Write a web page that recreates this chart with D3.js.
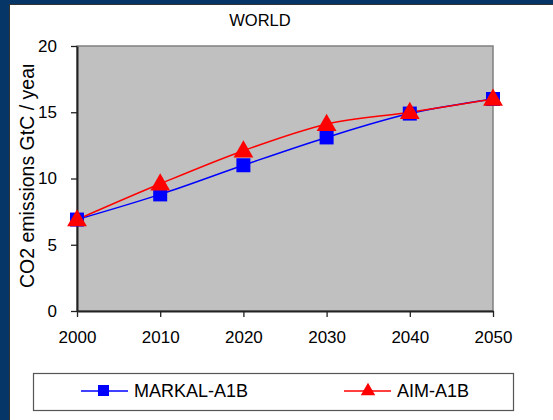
<!DOCTYPE html>
<html>
<head>
  <meta charset="utf-8">
  <title>WORLD</title>
  <script src="https://cdn.jsdelivr.net/npm/d3@7"></script>
  <style>
    body { margin: 0; background: #fff; }
    text { font-family: "Liberation Sans", Arial, sans-serif; fill: #000; }
  </style>
</head>
<body>
<svg id="chart"></svg>
<script>
  var years = [2000, 2010, 2020, 2030, 2040, 2050];
  var markal = [6.9, 8.8, 11.0, 13.1, 14.9, 16.0];
  var aim = [6.9, 9.6, 12.1, 14.1, 15.0, 16.0];
  var yTicks = [0, 5, 10, 15, 20];

  var width = 553, height = 420;
  var svg = d3.select("#chart").attr("width", width).attr("height", height);

  // navy frame round the slide
  svg.append("rect").attr("width", width).attr("height", height).attr("fill", "#063567");
  svg.append("rect").attr("x", 9).attr("y", 4).attr("width", width - 9).attr("height", height - 4)
     .attr("fill", "#333");
  svg.append("rect").attr("x", 10).attr("y", 5).attr("width", width - 10).attr("height", height - 5)
     .attr("fill", "#fff");

  var plot = {left: 77, right: 493, top: 46, bottom: 311};
  var x = d3.scaleLinear().domain([2000, 2050]).range([plot.left, plot.right]);
  var y = d3.scaleLinear().domain([0, 20]).range([plot.bottom, plot.top]);

  svg.append("rect")
     .attr("x", plot.left).attr("y", plot.top)
     .attr("width", plot.right - plot.left).attr("height", plot.bottom - plot.top)
     .attr("fill", "#c0c0c0").attr("stroke", "#808080").attr("stroke-width", 1.5);

  svg.append("text").attr("x", 260).attr("y", 26).attr("text-anchor", "middle")
     .style("font-size", "16.5px").text("WORLD");

  var yAxis = svg.append("g").attr("transform", "translate(" + plot.left + ",0)")
     .call(d3.axisLeft(y).tickValues(yTicks).tickSize(6).tickPadding(14).tickSizeOuter(0));
  var xAxis = svg.append("g").attr("transform", "translate(0," + plot.bottom + ")")
     .call(d3.axisBottom(x).tickValues(years).tickFormat(d3.format("d")).tickSize(6).tickPadding(14).tickSizeOuter(0));
  [yAxis, xAxis].forEach(function(g) {
    g.selectAll("text").style("font-size", "17px").attr("fill", "#000")
     .style("font-family", "'Liberation Sans', Arial, sans-serif");
    g.selectAll("line").attr("stroke", "#222").attr("stroke-width", 1.3);
    g.select(".domain").attr("stroke", "#222").attr("stroke-width", 2);
  });
  yAxis.selectAll("text").attr("dy", "0.32em");

  // y label, clipped at the top like the original
  svg.append("clipPath").attr("id", "ylab").append("rect")
     .attr("x", 0).attr("y", 65).attr("width", 60).attr("height", 300);
  svg.append("g").attr("clip-path", "url(#ylab)")
     .append("text")
     .attr("transform", "translate(34,288) rotate(-90)")
     .style("font-size", "19.5px").text("CO2 emissions GtC / year");

  var line = d3.line().x(function(d, i) { return x(years[i]); }).y(function(d) { return y(d); })
     .curve(d3.curveCatmullRom.alpha(0.5));

  var tri = d3.symbol().type(d3.symbolTriangle).size(170);

  svg.append("path").datum(markal).attr("d", line).attr("fill", "none")
     .attr("stroke", "#0000ff").attr("stroke-width", 1.5);
  svg.append("path").datum(aim).attr("d", line).attr("fill", "none")
     .attr("stroke", "#ff0000").attr("stroke-width", 1.5);

  svg.selectAll("rect.markal").data(markal).enter().append("rect").attr("class", "markal")
     .attr("x", function(d, i) { return x(years[i]) - 7; })
     .attr("y", function(d) { return y(d) - 7; })
     .attr("width", 14).attr("height", 14).attr("fill", "#0000ff");
  svg.selectAll("path.aim").data(aim).enter().append("path").attr("class", "aim")
     .attr("d", tri)
     .attr("transform", function(d, i) { return "translate(" + x(years[i]) + "," + (y(d) + 1) + ")"; })
     .attr("fill", "#ff0000");

  // legend
  var leg = svg.append("g");
  leg.append("rect").attr("x", 33.5).attr("y", 373.5).attr("width", 480).attr("height", 37)
     .attr("fill", "#fff").attr("stroke", "#555").attr("stroke-width", 1.2);
  var items = [
    {name: "MARKAL-A1B", color: "#0000ff", x0: 81, shape: "sq"},
    {name: "AIM-A1B", color: "#ff0000", x0: 344, shape: "tri"}
  ];
  items.forEach(function(it) {
    leg.append("line").attr("x1", it.x0).attr("x2", it.x0 + 47).attr("y1", 391).attr("y2", 391)
       .attr("stroke", it.color).attr("stroke-width", 1.5);
    if (it.shape == "sq")
      leg.append("rect").attr("x", it.x0 + 17).attr("y", 385).attr("width", 11).attr("height", 11).attr("fill", it.color);
    else
      leg.append("path").attr("d", d3.symbol().type(d3.symbolTriangle).size(90))
         .attr("transform", "translate(" + (it.x0 + 24) + ",391)").attr("fill", it.color);
    leg.append("text").attr("x", it.x0 + 53).attr("y", 397).style("font-size", "18px").text(it.name);
  });
</script>
</body>
</html>
